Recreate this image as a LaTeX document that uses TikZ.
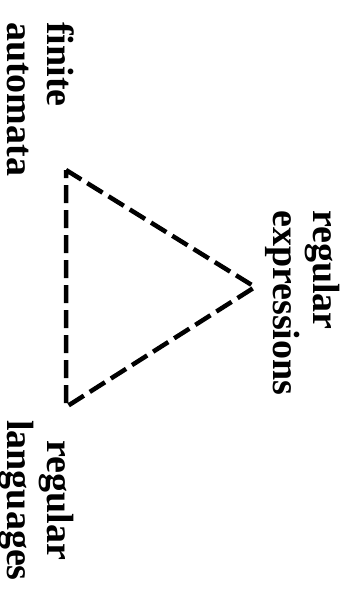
\documentclass[tikz,border=0pt]{standalone}
\usepackage{fontspec}
\setmainfont{Liberation Serif}
\begin{document}
\begin{tikzpicture}[x=1pt,y=1pt,
  lbl/.style={rotate=-90,anchor=base west,inner sep=0pt,
    font=\fontsize{38}{40}\selectfont\bfseries},
  edge/.style={line width=4.5pt,dash pattern=on 18pt off 7pt,line join=miter}]
\useasboundingbox (0,0) rectangle (346,-594);
\node[lbl] (fa) at (47,-22) {\begin{tabular}[t]{@{}l@{}}finite\\automata\end{tabular}};
\node[lbl] (re) at (313,-210) {\begin{tabular}[t]{@{}l@{}}regular\\expressions\end{tabular}};
\node[lbl] (rl) at (47,-420) {\begin{tabular}[t]{@{}c@{}}regular\\languages\end{tabular}};
\coordinate (vfa) at (66,-170);
\coordinate (vrl) at (66,-407);
\coordinate (vre) at (255,-287);
\draw[edge] (vfa) -- (vre) -- (vrl) -- cycle;
\end{tikzpicture}
\end{document}
